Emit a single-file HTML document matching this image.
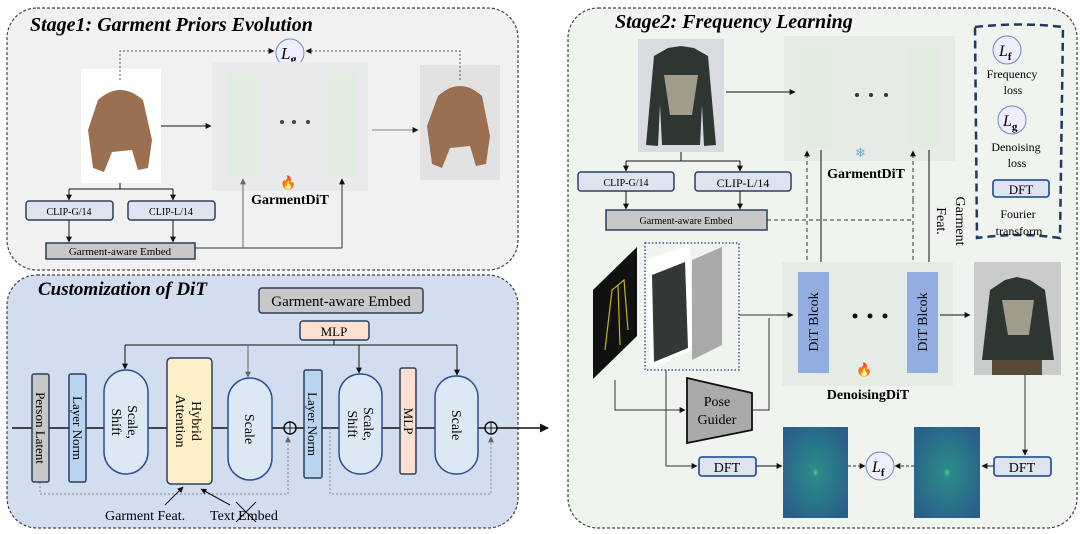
<!DOCTYPE html>
<html><head><meta charset="utf-8"><style>
html,body{margin:0;padding:0;background:#fff;}
svg{display:block;font-family:"Liberation Serif",serif;}
</style></head><body>
<svg width="1080" height="534" viewBox="0 0 1080 534" xmlns="http://www.w3.org/2000/svg">
<defs>
<marker id="a" viewBox="0 0 10 10" refX="9" refY="5" markerWidth="6" markerHeight="6" orient="auto"><path d="M0,0L10,5L0,10z" fill="#111"/></marker>
<marker id="g" viewBox="0 0 10 10" refX="9" refY="5" markerWidth="6" markerHeight="6" orient="auto"><path d="M0,0L10,5L0,10z" fill="#666"/></marker>
<radialGradient id="sp" cx="50%" cy="50%" r="60%"><stop offset="0" stop-color="#4fd07a"/><stop offset="0.08" stop-color="#2b8a8a"/><stop offset="1" stop-color="#2a5f8a"/></radialGradient>
</defs>

<!-- Stage1 -->
<rect x="7" y="8" width="511" height="262" rx="30" fill="#f1f1f1" stroke="#444" stroke-dasharray="3,2" stroke-width="1.2"/>
<text x="30" y="31" font-size="20" font-weight="bold" font-style="italic">Stage1: Garment Priors Evolution</text>
<circle cx="290" cy="53" r="14" fill="#eef" stroke="#6d8bc0"/>
<text x="281" y="59" font-size="17" font-style="italic">L<tspan font-size="12" font-style="normal" font-weight="bold" dy="4">g</tspan></text>
<rect x="81" y="69" width="80" height="114" fill="#fff"/>
<path d="M98,100 Q120,80 143,100 L152,140 L148,168 L138,170 L132,150 L112,152 L104,172 L93,168 L88,130 Z" fill="#9a7050"/>
<rect x="212" y="62" width="156" height="129" fill="#e8eaeb"/>
<rect x="228" y="73" width="29" height="103" fill="#e2ede2"/>
<rect x="327" y="73" width="29" height="103" fill="#e2ede2"/>
<circle cx="282" cy="122" r="2" fill="#444"/><circle cx="294" cy="122" r="2" fill="#444"/><circle cx="308" cy="122" r="2" fill="#444"/>
<rect x="420" y="65" width="80" height="115" fill="#e2e2e2"/>
<path d="M438,96 Q460,76 482,96 L490,136 L486,164 L476,166 L470,146 L450,148 L442,168 L432,164 L427,126 Z" fill="#9a7050"/>
<path d="M120,80 V51 H274" fill="none" stroke="#555" stroke-dasharray="2,2" marker-end="url(#a)"/>
<path d="M460,80 V51 H306" fill="none" stroke="#555" stroke-dasharray="2,2" marker-end="url(#a)"/>
<line x1="161" y1="126" x2="211" y2="126" stroke="#111" marker-end="url(#a)"/>
<line x1="372" y1="130" x2="418" y2="130" stroke="#888" marker-end="url(#a)"/>
<text x="280" y="187" font-size="13">🔥</text>
<text x="290" y="204" font-size="14" font-weight="bold" text-anchor="middle">GarmentDiT</text>
<rect x="26" y="201" width="87" height="19" rx="3" fill="#dde4ef" stroke="#2c3e5e" stroke-width="1.5"/>
<text x="69" y="215" font-size="10" text-anchor="middle">CLIP-G/14</text>
<rect x="128" y="201" width="87" height="19" rx="3" fill="#dde4ef" stroke="#2c3e5e" stroke-width="1.5"/>
<text x="171" y="215" font-size="10" text-anchor="middle">CLIP-L/14</text>
<rect x="46" y="243" width="149" height="16" fill="#c8c8c8" stroke="#2c3e5e" stroke-width="1.5"/>
<text x="120" y="255" font-size="11" text-anchor="middle">Garment-aware Embed</text>
<path d="M120,183 V189 M69,189 H173" stroke="#111" fill="none"/>
<line x1="69" y1="189" x2="69" y2="200" stroke="#111" marker-end="url(#a)"/>
<line x1="173" y1="189" x2="173" y2="200" stroke="#111" marker-end="url(#a)"/>
<line x1="69" y1="220" x2="69" y2="242" stroke="#111" marker-end="url(#a)"/>
<line x1="173" y1="220" x2="173" y2="242" stroke="#111" marker-end="url(#a)"/>
<path d="M195,248 H342" stroke="#333" fill="none"/>
<line x1="243" y1="248" x2="243" y2="179" stroke="#666" marker-end="url(#g)"/>
<line x1="342" y1="248" x2="342" y2="179" stroke="#333" marker-end="url(#a)"/>

<!-- Customization -->
<rect x="7" y="275" width="511" height="253" rx="30" fill="#d3ddf0" stroke="#444" stroke-dasharray="3,2" stroke-width="1.2"/>
<text x="38" y="295" font-size="19" font-weight="bold" font-style="italic">Customization of DiT</text>
<rect x="259" y="288" width="164" height="25" rx="3" fill="#c8c8c8" stroke="#2c3e5e" stroke-width="1.5"/>
<text x="341" y="306" font-size="15" text-anchor="middle">Garment-aware Embed</text>
<rect x="300" y="321" width="69" height="19" rx="3" fill="#fde0d0" stroke="#2c3e5e" stroke-width="1.5"/>
<text x="334" y="336" font-size="13" text-anchor="middle">MLP</text>
<path d="M334,340 V345 M125,345 H457" stroke="#111" fill="none"/>
<line x1="125" y1="345" x2="125" y2="369" stroke="#111" marker-end="url(#a)"/>
<line x1="248" y1="345" x2="248" y2="377" stroke="#666" marker-end="url(#g)"/>
<line x1="359" y1="345" x2="359" y2="373" stroke="#111" marker-end="url(#a)"/>
<line x1="457" y1="345" x2="457" y2="375" stroke="#111" marker-end="url(#a)"/>
<line x1="12" y1="428" x2="548" y2="428" stroke="#111" stroke-width="1.5" marker-end="url(#a)"/>
<path d="M40,482 V494 H288 V437" fill="none" stroke="#888" stroke-dasharray="2,2" marker-end="url(#g)"/>
<path d="M330,428 V494 H491 V437" fill="none" stroke="#888" stroke-dasharray="2,2" marker-end="url(#g)"/>
<rect x="32" y="374" width="17" height="108" rx="2" fill="#c8c8c8" stroke="#2c3e5e" stroke-width="1.5"/>
<text transform="translate(36,428) rotate(90)" font-size="13" text-anchor="middle">Person Latent</text>
<rect x="69" y="374" width="17" height="108" rx="2" fill="#b8d4ee" stroke="#2c3e5e" stroke-width="1.5"/>
<text transform="translate(73,428) rotate(90)" font-size="13" text-anchor="middle">Layer Norm</text>
<rect x="104" y="370" width="44" height="104" rx="22" fill="#dde8f5" stroke="#2b4f8f" stroke-width="1.5"/>
<text transform="translate(128,422) rotate(90)" font-size="14" text-anchor="middle">Scale,</text>
<text transform="translate(112,422) rotate(90)" font-size="14" text-anchor="middle">Shift</text>
<rect x="167" y="358" width="45" height="126" rx="4" fill="#fdf0c8" stroke="#2c3e5e" stroke-width="1.5"/>
<text transform="translate(192,421) rotate(90)" font-size="14" text-anchor="middle">Hybrid</text>
<text transform="translate(176,421) rotate(90)" font-size="14" text-anchor="middle">Attention</text>
<rect x="228" y="378" width="44" height="102" rx="22" fill="#dde8f5" stroke="#2b4f8f" stroke-width="1.5"/>
<text transform="translate(245,429) rotate(90)" font-size="14" text-anchor="middle">Scale</text>
<circle cx="290" cy="428" r="6" fill="#dde8f5" stroke="#111" stroke-width="1.5"/><path d="M284,428H296M290,422V434" stroke="#111"/>
<rect x="304" y="370" width="18" height="108" rx="2" fill="#b8d4ee" stroke="#2c3e5e" stroke-width="1.5"/>
<text transform="translate(308,424) rotate(90)" font-size="13" text-anchor="middle">Layer Norm</text>
<rect x="339" y="374" width="43" height="100" rx="21" fill="#dde8f5" stroke="#2b4f8f" stroke-width="1.5"/>
<text transform="translate(364,424) rotate(90)" font-size="14" text-anchor="middle">Scale,</text>
<text transform="translate(348,424) rotate(90)" font-size="14" text-anchor="middle">Shift</text>
<rect x="400" y="368" width="16" height="106" rx="2" fill="#fde0d0" stroke="#2c3e5e" stroke-width="1.5"/>
<text transform="translate(404,421) rotate(90)" font-size="13" text-anchor="middle">MLP</text>
<rect x="435" y="376" width="43" height="98" rx="21" fill="#dde8f5" stroke="#2b4f8f" stroke-width="1.5"/>
<text transform="translate(452,425) rotate(90)" font-size="14" text-anchor="middle">Scale</text>
<circle cx="491" cy="428" r="6" fill="#dde8f5" stroke="#111" stroke-width="1.5"/><path d="M485,428H497M491,422V434" stroke="#111"/>
<line x1="165" y1="505" x2="183" y2="487" stroke="#111" marker-end="url(#a)"/>
<line x1="230" y1="505" x2="201" y2="489" stroke="#111" marker-end="url(#a)"/>
<text x="105" y="520" font-size="14">Garment Feat.</text>
<text x="210" y="520" font-size="14">Text Embed</text>
<path d="M236,502 L256,522 M256,502 L236,522" stroke="#111"/>

<!-- Stage2 -->
<rect x="568" y="8" width="509" height="520" rx="30" fill="#eff4ee" stroke="#444" stroke-dasharray="3,2" stroke-width="1.2"/>
<text x="615" y="28" font-size="20" font-weight="bold" font-style="italic">Stage2: Frequency Learning</text>
<rect x="638" y="39" width="86" height="113" fill="#d8dce0"/>
<path d="M668,48 L681,46 L694,48 L708,56 L716,145 L704,146 L702,105 L700,145 L662,145 L660,105 L658,146 L646,145 L654,56 Z" fill="#2e3631"/>
<path d="M664,75 L698,75 L692,115 L670,115 Z" fill="#c8c0a8" opacity="0.75"/>
<rect x="784" y="36" width="171" height="125" fill="#e6ebe6"/>
<rect x="800" y="48" width="31" height="99" fill="#e1ebe0"/>
<rect x="908" y="48" width="32" height="99" fill="#e1ebe0"/>
<circle cx="857" cy="95" r="2" fill="#333"/><circle cx="871" cy="95" r="2" fill="#333"/><circle cx="886" cy="95" r="2" fill="#333"/>
<text x="855" y="157" font-size="13" fill="#6ab0e0">❄</text>
<text x="866" y="178" font-size="14" font-weight="bold" text-anchor="middle">GarmentDiT</text>
<line x1="726" y1="92" x2="795" y2="92" stroke="#111" marker-end="url(#a)"/>
<rect x="578" y="172" width="96" height="19" rx="3" fill="#dde4ef" stroke="#2c3e5e" stroke-width="1.5"/>
<text x="626" y="186" font-size="10" text-anchor="middle">CLIP-G/14</text>
<rect x="695" y="172" width="96" height="19" rx="3" fill="#dde4ef" stroke="#2c3e5e" stroke-width="1.5"/>
<text x="743" y="187" font-size="12" text-anchor="middle">CLIP-L/14</text>
<rect x="606" y="210" width="161" height="20" fill="#c8c8c8" stroke="#2c3e5e" stroke-width="1.5"/>
<text x="686" y="224" font-size="10" text-anchor="middle">Garment-aware Embed</text>
<path d="M681,152 V161 M626,161 H740" stroke="#111" fill="none"/>
<line x1="626" y1="161" x2="626" y2="171" stroke="#111" marker-end="url(#a)"/>
<line x1="740" y1="161" x2="740" y2="171" stroke="#111" marker-end="url(#a)"/>
<line x1="626" y1="191" x2="626" y2="209" stroke="#111" marker-end="url(#a)"/>
<line x1="740" y1="191" x2="740" y2="209" stroke="#111" marker-end="url(#a)"/>
<line x1="767" y1="220" x2="913" y2="220" stroke="#333" stroke-dasharray="4,3"/>
<line x1="807" y1="200" x2="807" y2="151" stroke="#333" stroke-dasharray="4,3" marker-end="url(#a)"/>
<line x1="807" y1="200" x2="807" y2="271" stroke="#333" stroke-dasharray="4,3" marker-end="url(#a)"/>
<line x1="913" y1="200" x2="913" y2="151" stroke="#333" stroke-dasharray="4,3" marker-end="url(#a)"/>
<line x1="913" y1="200" x2="913" y2="271" stroke="#333" stroke-dasharray="4,3" marker-end="url(#a)"/>
<line x1="821" y1="150" x2="821" y2="271" stroke="#111" marker-end="url(#a)"/>
<line x1="929" y1="150" x2="929" y2="271" stroke="#111" marker-end="url(#a)"/>
<text transform="translate(956,221) rotate(90)" font-size="14" text-anchor="middle">Garment</text>
<text transform="translate(937,221) rotate(90)" font-size="14" text-anchor="middle">Feat.</text>
<path d="M975,27 Q1020,22 1063,27 L1060,238 Q1020,232 977,238 Z" fill="none" stroke="#1f3864" stroke-width="2.5" stroke-dasharray="8,5"/>
<circle cx="1007" cy="50" r="14" fill="#eef" stroke="#6d8bc0"/>
<text x="999" y="56" font-size="16" font-style="italic">L<tspan font-size="11" font-style="normal" font-weight="bold" dy="4">f</tspan></text>
<text x="1012" y="78" font-size="12" text-anchor="middle">Frequency</text>
<text x="1013" y="94" font-size="12" text-anchor="middle">loss</text>
<circle cx="1012" cy="120" r="14" fill="#eef" stroke="#6d8bc0"/>
<text x="1003" y="126" font-size="16" font-style="italic">L<tspan font-size="11" font-style="normal" font-weight="bold" dy="4">g</tspan></text>
<text x="1016" y="151" font-size="12" text-anchor="middle">Denoising</text>
<text x="1017" y="167" font-size="12" text-anchor="middle">loss</text>
<rect x="993" y="180" width="56" height="17" rx="3" fill="#dde4ef" stroke="#2c5aa0" stroke-width="1.8"/>
<text x="1021" y="194" font-size="13" text-anchor="middle">DFT</text>
<text x="1018" y="218" font-size="12" text-anchor="middle">Fourier</text>
<text x="1019" y="235" font-size="12" text-anchor="middle">transform</text>
<rect x="782" y="262" width="171" height="124" fill="#e6ebe6"/>
<rect x="798" y="272" width="31" height="101" fill="#92aee0"/>
<text transform="translate(813,322) rotate(-90)" font-size="14" text-anchor="middle" dy="5">DiT Blcok</text>
<rect x="907" y="272" width="31" height="101" fill="#92aee0"/>
<text transform="translate(922,322) rotate(-90)" font-size="14" text-anchor="middle" dy="5">DiT Blcok</text>
<circle cx="855" cy="316" r="2.5" fill="#111"/><circle cx="870" cy="316" r="2.5" fill="#111"/><circle cx="885" cy="316" r="2.5" fill="#111"/>
<text x="856" y="374" font-size="13">🔥</text>
<text x="868" y="399" font-size="14" font-weight="bold" text-anchor="middle">DenoisingDiT</text>
<path d="M593,290 L637,247 L637,336 L593,379 Z" fill="#111"/>
<path d="M605,350 L612,290 L624,280 L628,330 M618,285 L620,345" stroke="#c6b21a" fill="none" stroke-width="1.2"/>
<path d="M645,260 L690,245 L692,350 L650,370 Z" fill="#fff"/>
<path d="M652,275 L685,262 L688,348 L654,362 Z" fill="#333a35"/>
<path d="M692,260 L722,247 L722,345 L692,360 Z" fill="#aaa"/>
<rect x="645" y="243" width="94" height="127" fill="none" stroke="#3a5aa0" stroke-width="1.5" stroke-dasharray="1.5,2"/>
<line x1="739" y1="315" x2="793" y2="315" stroke="#333" marker-end="url(#a)"/>
<path d="M687,378 L752,393 L752,430 L687,443 Z" fill="#aaa" stroke="#111" stroke-width="1.8"/>
<text x="717" y="406" font-size="14" text-anchor="middle">Pose</text>
<text x="717" y="424" font-size="14" text-anchor="middle">Guider</text>
<path d="M615,380 V410 H685" fill="none" stroke="#333" marker-end="url(#a)"/>
<path d="M666,370 V466 H697" fill="none" stroke="#333" marker-end="url(#a)"/>
<path d="M752,410 H769 V318" fill="none" stroke="#333"/>
<rect x="699" y="457" width="57" height="19" rx="3" fill="#dde4ef" stroke="#2c5aa0" stroke-width="1.8"/>
<text x="727" y="472" font-size="14" text-anchor="middle">DFT</text>
<line x1="756" y1="466" x2="782" y2="466" stroke="#111" marker-end="url(#a)"/>
<rect x="783" y="427" width="65" height="91" fill="url(#sp)"/>
<rect x="914" y="427" width="66" height="91" fill="url(#sp)"/>
<circle cx="880" cy="466" r="14" fill="#eef" stroke="#6d8bc0"/>
<text x="872" y="472" font-size="16" font-style="italic">L<tspan font-size="11" font-style="normal" font-weight="bold" dy="4">f</tspan></text>
<line x1="848" y1="466" x2="865" y2="466" stroke="#333" stroke-dasharray="3,2" marker-end="url(#a)"/>
<line x1="914" y1="466" x2="895" y2="466" stroke="#333" stroke-dasharray="3,2" marker-end="url(#a)"/>
<rect x="974" y="262" width="87" height="113" fill="#c9ccca"/>
<path d="M1005,280 L1017,277 L1030,280 L1045,290 L1054,360 L982,360 L990,290 Z" fill="#2e3631"/>
<rect x="992" y="360" width="50" height="15" fill="#5a4a3a"/>
<path d="M1002,300 L1034,300 L1029,335 L1008,335 Z" fill="#c8c0a8" opacity="0.75"/>
<line x1="940" y1="315" x2="970" y2="315" stroke="#111" marker-end="url(#a)"/>
<line x1="1025" y1="375" x2="1025" y2="455" stroke="#333" marker-end="url(#a)"/>
<rect x="994" y="457" width="57" height="19" rx="3" fill="#dde4ef" stroke="#2c5aa0" stroke-width="1.8"/>
<text x="1022" y="472" font-size="14" text-anchor="middle">DFT</text>
<line x1="994" y1="466" x2="982" y2="466" stroke="#111" marker-end="url(#a)"/>
</svg>
</body></html>
